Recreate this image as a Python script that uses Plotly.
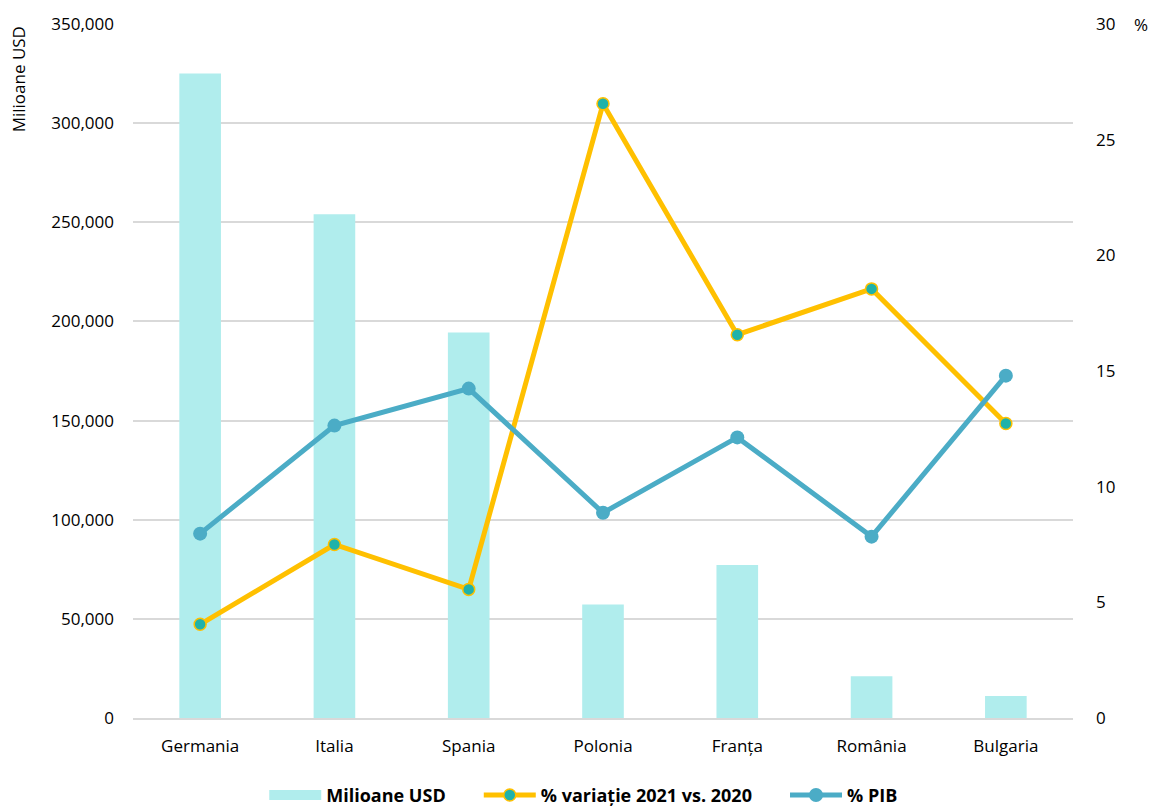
import plotly.graph_objects as go

countries = ["Germania", "Italia", "Spania", "Polonia", "Franța", "România", "Bulgaria"]
milioane_usd = [325000, 254000, 194400, 57200, 77100, 21000, 11100]
variatie_2021_2020 = [4.05, 7.5, 5.56, 26.55, 16.57, 18.55, 12.73]
pct_pib = [7.97, 12.64, 14.24, 8.87, 12.13, 7.84, 14.8]

left_ticks = [0, 50000, 100000, 150000, 200000, 250000, 300000, 350000]
right_ticks = [0, 5, 10, 15, 20, 25, 30]

font_family = "Open Sans, Noto Sans, sans-serif"
bar_color = "#B0EDED"
pad = "\u00a0" * 6  # extra room after each legend entry

fig = go.Figure()

fig.add_trace(go.Bar(
    x=countries, y=milioane_usd, name="Milioane USD",
    marker=dict(color=bar_color, line=dict(width=0)),
    width=0.31, yaxis="y", showlegend=False,
))

# legend entry for the bars, drawn as a wide flat swatch
fig.add_trace(go.Scatter(
    x=[None], y=[None], name="Milioane USD" + pad, mode="lines",
    line=dict(color=bar_color, width=12), yaxis="y",
))

fig.add_trace(go.Scatter(
    x=countries, y=variatie_2021_2020, name="% variație 2021 vs. 2020" + pad,
    mode="lines+markers", yaxis="y2",
    line=dict(color="#FFC000", width=5),
    marker=dict(color="#20B2AA", size=12, line=dict(color="#FFC000", width=1.5)),
))

fig.add_trace(go.Scatter(
    x=countries, y=pct_pib, name="% PIB",
    mode="lines+markers", yaxis="y2",
    line=dict(color="#4BACC6", width=5),
    marker=dict(color="#4BACC6", size=14),
))

fig.update_layout(
    width=1151, height=806,
    margin=dict(l=133, r=78, t=24, b=88, autoexpand=False),
    paper_bgcolor="white", plot_bgcolor="white",
    font=dict(family=font_family, size=17, color="#000000"),
    showlegend=True,
    legend=dict(
        orientation="h", x=0.479, xanchor="center",
        y=-0.138, yanchor="bottom",
        font=dict(size=18, color="#000000", weight="bold"),
        traceorder="normal", borderwidth=0, itemwidth=52,
    ),
    xaxis=dict(
        showgrid=False, showline=True, linecolor="#D9D9D9", linewidth=2,
        ticks="", tickfont=dict(size=17), ticklabelstandoff=12,
    ),
    yaxis=dict(
        range=[0, 350000], tickvals=left_ticks, tickformat=",",
        showgrid=True, gridcolor="#D9D9D9", gridwidth=1.5,
        zeroline=False, showline=False, ticks="",
        tickfont=dict(size=17), ticklabelstandoff=18,
    ),
    yaxis2=dict(
        range=[0, 30], tickvals=right_ticks, overlaying="y", side="right",
        showgrid=False, zeroline=False, showline=False, ticks="",
        tickfont=dict(size=17), ticklabelstandoff=22,
    ),
    annotations=[
        dict(text="Milioane USD", textangle=-90, x=-0.122, xref="paper", y=1,
             yref="paper", xanchor="center", yanchor="top", showarrow=False,
             font=dict(size=17)),
        dict(text="%", x=1.0, xref="paper", y=1.0, yref="paper",
             xshift=68, xanchor="center", yanchor="middle", showarrow=False,
             font=dict(size=17)),
    ],
)

fig.write_html("out.html")
